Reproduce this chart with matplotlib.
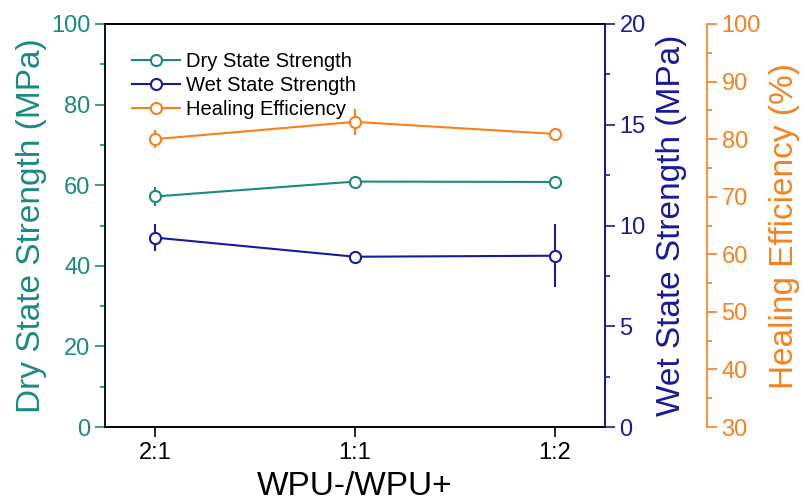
import matplotlib
matplotlib.use("Agg")
import matplotlib.pyplot as plt
import numpy as np

plt.rcParams['font.family'] = ['Liberation Sans', 'DejaVu Sans']

# Données
ratios = ["2:1", "1:1", "1:2"]
dry = [57.2, 60.9, 60.8]
dry_err = [2.4, 1.0, 0.6]
wet = [9.4, 8.45, 8.5]
wet_err = [0.65, 0.25, 1.55]
healing = [80.0, 83.0, 80.9]
healing_err = [1.6, 2.3, 0.5]
labels = ["Dry State Strength", "Wet State Strength", "Healing Efficiency"]

c_dry = "#1a8a80"
c_wet = "#1a1a9a"
c_heal = "#f5821f"

fig = plt.figure(figsize=(8.1, 5.01), dpi=100)
ax = fig.add_axes([0.1296, 0.1477, 0.6173, 0.8044])
ax2 = ax.twinx()
ax3 = ax.twinx()
ax3.spines['right'].set_position(('axes', 1.204))

x = np.arange(len(ratios))
kw = dict(marker='o', markersize=8, markerfacecolor='white', markeredgewidth=1.5,
          linewidth=1.5, capsize=0, elinewidth=1.5)
l1 = ax.errorbar(x, dry, yerr=dry_err, color=c_dry, **kw)
l2 = ax2.errorbar(x, wet, yerr=wet_err, color=c_wet, **kw)
l3 = ax3.errorbar(x, healing, yerr=healing_err, color=c_heal, **kw)

ax.set_xlim(-0.25, 2.25)
ax.set_xticks(x)
ax.set_xticklabels(ratios)
ax.set_ylim(0, 100)
ax2.set_ylim(0, 20)
ax3.set_ylim(30, 100)
ax.set_yticks(np.arange(0, 101, 20))
ax.set_yticks(np.arange(10, 100, 20), minor=True)
ax2.set_yticks(np.arange(0, 21, 5))
ax2.set_yticks(np.arange(2.5, 20, 5), minor=True)
ax3.set_yticks(np.arange(30, 101, 10))
ax3.set_yticks(np.arange(35, 100, 10), minor=True)

ax.set_xlabel("WPU-/WPU+", fontsize=24, labelpad=5)
ax.set_ylabel("Dry State Strength (MPa)", fontsize=24, color=c_dry, labelpad=3)
ax2.set_ylabel("Wet State Strength (MPa)", fontsize=24, color=c_wet, labelpad=7)
ax3.set_ylabel("Healing Efficiency (%)", fontsize=24, color=c_heal, labelpad=6)

ax.tick_params(axis='x', labelsize=17, length=7, width=1.2, direction='out')
ax.tick_params(axis='y', which='major', labelsize=17, length=7, width=1.2, colors=c_dry)
ax.tick_params(axis='y', which='minor', length=3.5, width=1.2, colors=c_dry)
ax2.tick_params(axis='y', which='major', labelsize=17, length=7, width=1.2, colors=c_wet)
ax2.tick_params(axis='y', which='minor', length=3.5, width=1.2, colors=c_wet)
ax3.tick_params(axis='y', which='major', labelsize=17, length=7, width=1.2, colors=c_heal)
ax3.tick_params(axis='y', which='minor', length=3.5, width=1.2, colors=c_heal)

for a in (ax, ax2, ax3):
    for s in a.spines.values():
        s.set_linewidth(1.2)
ax.spines['left'].set_color(c_dry)
ax2.spines['right'].set_color(c_wet)
ax3.spines['right'].set_color(c_heal)
ax3.spines['top'].set_visible(False)
ax3.spines['bottom'].set_visible(False)
ax3.spines['left'].set_visible(False)

ax.legend([l1[0], l2[0], l3[0]], labels, loc='upper left', bbox_to_anchor=(0.03, 0.96),
          frameon=False, fontsize=14.5, handlelength=2.4, borderaxespad=0.2,
          labelspacing=0.25, handletextpad=0.3)

fig.savefig("out.png", dpi=100)
